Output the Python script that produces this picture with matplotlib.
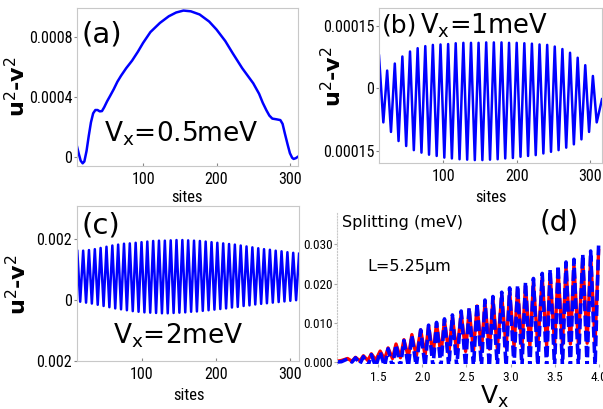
import numpy as np
import matplotlib
matplotlib.use("Agg")
import matplotlib.pyplot as plt
from matplotlib import font_manager

# ---- panel (a): Vx = 0.5 meV, smooth profile ----
a_sites = [10, 12.5, 15, 17.7, 20, 23, 26, 29, 32, 35, 38, 41, 44, 47, 51, 55, 60, 65,
           70, 77, 85, 93, 100, 110, 123, 135, 145, 155, 165, 177, 190, 200, 212, 222,
           235, 250, 258, 263, 268, 272, 276, 282, 287, 290, 293, 297, 300, 303, 305, 308, 311]
a_vals = [70, 20, -25, -42, -30, 40, 140, 230, 290, 312, 312, 303, 305, 330, 370, 405, 450, 500,
          540, 590, 640, 700, 758, 830, 891, 935, 960, 973, 968, 947, 900, 847, 770, 690,
          590, 490, 420, 360, 310, 275, 255, 250, 245, 220, 158, 80, 25, -5, -13, -8, 2]  # x1e-6

# ---- panel (b): Vx = 1 meV, extrema of the oscillation ----
b_max_sites = [23.6, 34.0, 44.3, 54.7, 65.1, 75.5, 85.8, 96.2, 106.6, 116.9, 127.3, 137.7, 148.0, 158.4,
               168.8, 179.2, 189.5, 199.9, 210.3, 220.6, 231.0, 241.4, 251.7, 262.1, 272.5, 282.9, 293.2, 303.6]
b_max_vals = [43, 60, 77, 89, 97, 102, 105, 106, 107, 109, 110, 110, 110, 111,
              111, 111, 110, 110, 109, 108, 106, 105, 101, 95, 86, 74, 56, 30]  # x1e-6
b_min_sites = [12.5, 18.4, 28.8, 39.1, 49.5, 59.9, 70.3, 80.6, 91.0, 101.4, 111.7, 122.1, 132.5, 142.9, 153.2,
               163.6, 174.0, 184.3, 194.7, 205.1, 215.4, 225.8, 236.2, 246.6, 256.9, 267.3, 277.7,
               288.0, 298.4, 308.8, 316]
b_min_vals = [79, -82, -105, -127, -139, -149, -155, -160, -163, -167, -169, -171, -172, -173, -173,
              -172, -171, -169, -168, -165, -163, -161, -157, -153, -149, -143, -135, -123, -105, -82, -26]

# ---- panel (c): Vx = 2 meV ----
c_max_sites = [13.4, 21.3, 29.1, 37.0, 44.8, 52.7, 60.6, 68.4, 76.3, 84.1, 92.0, 99.9, 107.7, 115.6,
               123.4, 131.3, 139.2, 147.0, 154.9, 162.7, 170.6, 178.5, 186.3, 194.2, 202.0, 209.9,
               217.8, 225.6, 233.5, 241.3, 249.2, 257.1, 264.9, 272.8, 280.6, 288.5, 296.4, 304.2, 312.1]
c_max_vals = [162, 163, 165, 168, 172, 176, 180, 183, 186, 187, 189, 191, 193, 195, 196, 196, 197, 198,
              198, 197, 196, 195, 193, 191, 189, 187, 185, 183, 180, 177, 174, 171, 168, 166, 163,
              161, 158, 156, 153]  # x1e-5
c_min_sites = [17.3, 25.2, 33.0, 40.9, 48.8, 56.6, 64.5, 72.3, 80.2, 88.1, 95.9, 103.8, 111.6, 119.5,
               127.4, 135.2, 143.1, 150.9, 158.8, 166.7, 174.5, 182.4, 190.2, 198.1, 206.0, 213.8,
               221.7, 229.5, 237.4, 245.3, 253.1, 261.0, 268.8, 276.7, 284.6, 292.4, 300.3, 308.1]
c_min_vals = [-5, -8, -11, -15, -19, -23, -27, -30, -33, -36, -38, -40, -41, -42, -43, -43, -42, -41,
              -40, -38, -37, -35, -33, -31, -29, -27, -24, -22, -19, -17, -14, -12, -10, -8, -6,
              -4, -2, 0]

# ---- panel (d): splitting vs Vx (red solid, blue dashed) ----
d_peak_vx = [1.15, 1.24, 1.33, 1.42, 1.52, 1.61, 1.70, 1.79, 1.88, 1.98, 2.07, 2.16, 2.25, 2.34, 2.44, 2.53,
             2.62, 2.71, 2.80, 2.90, 2.99, 3.08, 3.17, 3.26, 3.36, 3.45, 3.54, 3.63, 3.72, 3.82, 3.91, 4.00]
d_min_vx = [1.03, 1.08, 1.20, 1.29, 1.38, 1.47, 1.57, 1.66, 1.75, 1.84, 1.93, 2.03, 2.12, 2.21, 2.30, 2.39,
            2.49, 2.58, 2.67, 2.76, 2.85, 2.95, 3.04, 3.13, 3.22, 3.31, 3.41, 3.50, 3.59, 3.68, 3.77,
            3.87, 3.96]
blue_peak = [8, 11, 14, 19, 26, 34, 44, 55, 68, 82, 94, 101, 110, 120, 130, 139,
             150, 158, 167, 178, 189, 196, 204, 213, 226, 236, 246, 255, 262, 275, 283, 297]  # x1e-4
blue_min = [0, 1, 0, -5, -12, -12, -12, -12, -12, -12, -12, -12, -12, -12, -12, -12,
            -12, -12, -12, -12, -12, -12, -12, -12, -12, -12, -12, -12, -12, -12, -12, -12, -12]
red_peak = [9, 12, 16, 21, 28, 36, 46, 57, 70, 82, 92, 98, 106, 115, 124, 133,
            143, 151, 159, 169, 179, 186, 194, 203, 215, 225, 234, 243, 250, 262, 271, 284]
red_min = [2, 4, 2, 3, 4, 5, 7, 9, 11, 13, 15, 17, 19, 21, 23, 25,
           27, 29, 31, 33, 35, 37, 39, 40, 41, 42, 43, 44, 45, 46, 47, 48, 49]


def zigzag(xa, ya, xb, yb, scale):
    x = np.concatenate([xa, xb])
    y = np.concatenate([ya, yb]) * scale
    o = np.argsort(x)
    return x[o], y[o]


installed = {f.name for f in font_manager.fontManager.ttflist}
NARROW = [f for f in ["Liberation Sans Narrow", "DejaVu Sans Condensed", "Roboto Condensed",
                      "Open Sans Condensed"] if f in installed] + ["DejaVu Sans"]
STRETCH = "condensed"
SPINE = "#c8c8c8"
BLUE = "#0000ff"
RED = "#ff0000"
W, H = 603, 409


def frame(ax, size=11.5):
    for s in ax.spines.values():
        s.set_color(SPINE)
        s.set_linewidth(0.8)
    ax.tick_params(axis="y", direction="out", length=2.5, color="#888888", pad=1)
    ax.tick_params(axis="x", direction="in", length=2.5, color="#888888", pad=4)
    for lab in ax.get_xticklabels() + ax.get_yticklabels():
        lab.set_family(NARROW)
        lab.set_stretch(STRETCH)
        lab.set_fontsize(size)


def ylab(px, py):
    fig.text(px / W, 1 - py / H, r"$\mathbf{u}^2$-$\mathbf{v}^2$", rotation=90,
             fontsize=16, fontweight="bold", ha="center", va="center")


def ftext(px, py, s, size, **kw):
    fig.text(px / W, 1 - py / H, s, fontsize=size, **kw)


fig = plt.figure(figsize=(6.03, 4.09), dpi=100)

# (a)
ax = fig.add_axes([77 / W, 1 - 166 / H, 221 / W, 158 / H])
ax.plot(a_sites, np.array(a_vals) * 1e-6, color=BLUE, lw=1.8)
ax.set_xlim(10, 311)
ax.set_ylim(-0.00006, 0.00099)
ax.set_xticks([100, 200, 300])
ax.set_yticks([0, 0.0004, 0.0008], ["0", "0.0004", "0.0008"])
frame(ax)
ylab(17, 87)
ftext(82, 35, "(a)", 21, va="center")
ftext(104, 134, r"V$_{\mathrm{x}}$=0.5meV", 19, va="center")
ftext(187, 197, "sites", 12, ha="center", va="center", family=NARROW, stretch=STRETCH)

# (b)
ax = fig.add_axes([379 / W, 1 - 163 / H, 223 / W, 155 / H])
bx, by = zigzag(b_max_sites, b_max_vals, b_min_sites, b_min_vals, 1e-6)
ax.plot(bx, by, color=BLUE, lw=1.8)
ax.set_xlim(12.5, 316)
ax.set_ylim(-0.00018, 0.000194)
ax.set_xticks([100, 200, 300])
ax.set_yticks([-0.00015, 0, 0.00015], ["0.00015", "0", "0.00015"])
frame(ax)
ylab(333, 77)
ftext(382, 26, "(b)", 18, va="center")
ftext(420, 26, r"V$_{\mathrm{x}}$=1meV", 18.5, va="center")
ftext(491, 197, "sites", 12, ha="center", va="center", family=NARROW, stretch=STRETCH)

# (c)
ax = fig.add_axes([77 / W, 1 - 361 / H, 222 / W, 155 / H])
cx, cy = zigzag(c_max_sites, c_max_vals, c_min_sites, c_min_vals, 1e-5)
ax.plot(cx, cy, color=BLUE, lw=1.8)
ax.set_xlim(13, 312)
ax.set_ylim(-0.002, 0.0031)
ax.set_xticks([100, 200, 300])
ax.set_yticks([-0.002, 0, 0.002], ["0.002", "0", "0.002"])
frame(ax)
ylab(18, 285)
ftext(82, 225, "(c)", 21, va="center")
ftext(113, 336, r"V$_{\mathrm{x}}$=2meV", 19, va="center")
ftext(189, 395, "sites", 12, ha="center", va="center", family=NARROW, stretch=STRETCH)

# (d)
ax = fig.add_axes([337 / W, 1 - 364 / H, 266 / W, 151 / H])
rx, ry = zigzag(d_peak_vx, red_peak, d_min_vx, red_min, 1e-4)
ax.plot(rx, ry, color=RED, lw=2.4)
ux, uy = zigzag(d_peak_vx, blue_peak, d_min_vx, blue_min, 1e-4)
ax.plot(ux, uy, color=BLUE, lw=2.6, dashes=(3.0, 1.2))
ax.set_xlim(1.03, 4.05)
ax.set_ylim(-0.0005, 0.038)
ax.set_xticks([1.5, 2.0, 2.5, 3.0, 3.5, 4.0], ["1.5", "2.0", "2.5", "3.0", "3.5", "4.0"])
ax.set_yticks([0, 0.01, 0.02, 0.03], ["0.000", "0.010", "0.020", "0.030"])
for s in ["top", "right", "bottom"]:
    ax.spines[s].set_visible(False)
ax.spines["left"].set_color(SPINE)
ax.spines["left"].set_linestyle(":")
ax.tick_params(axis="both", length=2, color="#aaaaaa", pad=1)
ax.tick_params(axis="x", pad=3)
for lab in ax.get_xticklabels() + ax.get_yticklabels():
    lab.set_family(NARROW)
    lab.set_stretch(STRETCH)
    lab.set_fontsize(9.5)
ftext(342, 223, "Splitting (meV)", 11.5, va="center")
ftext(367, 267, "L=5.25μm", 11.5, va="center")
ftext(540, 223, "(d)", 20, va="center")
ftext(480, 404, r"V$_{\mathrm{x}}$", 18, va="baseline")

fig.savefig("out.png", dpi=100)
